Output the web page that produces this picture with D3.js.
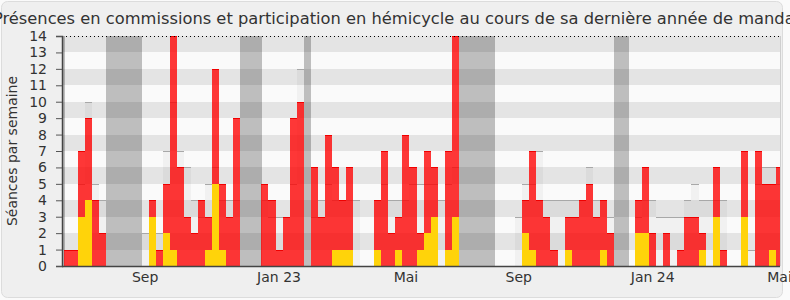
<!DOCTYPE html>
<html>
<head>
<meta charset="utf-8">
<script src="https://cdn.jsdelivr.net/npm/d3@7"></script>
<style>
  body { margin: 0; background: #fafafa; }
  svg text { font-family: "DejaVu Sans", sans-serif; fill: #333; }
  .tick text { font-size: 14px; }
</style>
</head>
<body>
<div id="chart"></div>
<script>
// seances per week (red = total, yellow = hemicycle part), median of all deputies in grey
const seances = [
  0, 1, 1, 7, 9, 4, 2, 0, 0, 0,
  0, 0, 0, 4, 1, 5, 14, 6, 3, 2,
  4, 3, 12, 5, 3, 9, 0, 0, 0, 5,
  4, 1, 3, 9, 10, 0, 6, 3, 8, 6,
  4, 6, 0, 0, 0, 4, 7, 2, 3, 8,
  6, 2, 7, 6, 0, 7, 14, 0, 0, 0,
  0, 0, 0, 0, 0, 0, 4, 7, 4, 3,
  1, 0, 3, 3, 4, 5, 3, 4, 2, 0,
  0, 0, 4, 6, 2, 0, 2, 0, 1, 3,
  3, 2, 0, 6, 1, 0, 0, 7, 0, 7,
  5, 5, 6
];
const hemicycle = [
  0, 0, 0, 3, 4, 0, 0, 0, 0, 0,
  0, 0, 0, 3, 0, 2, 1, 0, 0, 0,
  0, 1, 5, 1, 0, 0, 0, 0, 0, 0,
  0, 0, 0, 0, 0, 0, 0, 0, 0, 1,
  1, 1, 0, 0, 0, 1, 0, 0, 1, 0,
  0, 1, 2, 3, 0, 1, 3, 0, 0, 0,
  0, 0, 0, 0, 0, 0, 2, 1, 0, 0,
  0, 0, 1, 0, 0, 0, 0, 1, 0, 0,
  0, 0, 2, 2, 0, 0, 0, 0, 0, 0,
  0, 1, 0, 3, 0, 0, 0, 3, 0, 0,
  0, 1, 0
];
const mediane = [
  0, 0, 0, 5, 10, 5, 4, 0, 0, 0,
  0, 0, 2, 2, 2, 7, 10, 7, 6, 4,
  3, 5, 6, 4, 4, 4, 0, 0, 0, 4,
  3, 3, 3, 5, 12, 0, 3, 4, 5, 4,
  4, 4, 4, 0, 0, 4, 5, 4, 4, 4,
  5, 5, 5, 5, 4, 5, 6, 0, 0, 0,
  0, 0, 0, 0, 0, 3, 5, 5, 7, 4,
  4, 4, 4, 4, 4, 6, 4, 4, 3, 0,
  0, 0, 3, 4, 4, 3, 3, 3, 3, 4,
  5, 4, 4, 4, 4, 0, 0, 0, 1, 5,
  6, 6, 5
];
const vacances = [0, 7, 8, 9, 10, 11, 26, 27, 28, 35, 57, 58, 59, 60, 61, 79, 80];
const moisSemaines = [12, 31, 49, 65, 84, 102];
const moisLabels = ["Sep", "Jan 23", "Mai", "Sep", "Jan 24", "Mai"];

const width = 790, height = 300;
const plotLeft = 62, plotRight = 780, plotTop = 36, plotBottom = 266;
const weeks = d3.range(seances.length);

const svg = d3.select("#chart").append("svg")
    .attr("width", width)
    .attr("height", height);

// panel
svg.append("rect")
    .attr("x", 1.5).attr("y", 1.5)
    .attr("width", 781).attr("height", 296)
    .attr("rx", 6)
    .attr("fill", "#efefef")
    .attr("stroke", "#dcdcdc");

const x = d3.scaleBand()
    .domain(weeks)
    .range([56.95, 56.95 + 7.05 * weeks.length])
    .padding(0);

const y = d3.scaleLinear()
    .domain([0, 14])
    .range([plotBottom, plotTop]);

svg.append("clipPath").attr("id", "plot-clip")
  .append("rect")
    .attr("x", plotLeft).attr("y", plotTop - 1)
    .attr("width", plotRight - plotLeft).attr("height", plotBottom - plotTop + 1);

const plot = svg.append("g")
    .attr("clip-path", "url(#plot-clip)")
    .attr("shape-rendering", "crispEdges");

plot.append("rect")
    .attr("x", plotLeft).attr("y", plotTop)
    .attr("width", plotRight - plotLeft).attr("height", plotBottom - plotTop)
    .attr("fill", "#fafafa");

// holidays
plot.selectAll(".vac")
  .data(vacances)
  .enter().append("rect")
    .attr("x", d => x(d))
    .attr("width", x.bandwidth() + 0.6)
    .attr("y", plotTop)
    .attr("height", plotBottom - plotTop)
    .attr("fill", "#bebebe");

// alternating bands
plot.selectAll(".band")
  .data(d3.range(1, 14, 2))
  .enter().append("rect")
    .attr("x", plotLeft)
    .attr("width", plotRight - plotLeft)
    .attr("y", d => y(d + 1))
    .attr("height", d => y(d) - y(d + 1))
    .attr("fill", "#000")
    .attr("fill-opacity", 0.085);

const med = weeks.filter(i => mediane[i] > 0);

plot.selectAll(".med")
  .data(med)
  .enter().append("rect")
    .attr("x", d => x(d))
    .attr("width", x.bandwidth())
    .attr("y", d => y(mediane[d]))
    .attr("height", d => plotBottom - y(mediane[d]))
    .attr("fill", "#000")
    .attr("fill-opacity", 0.035);

plot.selectAll(".medline")
  .data(med)
  .enter().append("line")
    .attr("x1", d => x(d))
    .attr("x2", d => x(d) + x.bandwidth())
    .attr("y1", d => y(mediane[d]) + 0.5)
    .attr("y2", d => y(mediane[d]) + 0.5)
    .attr("stroke", "#a8a8a8");

const pres = weeks.filter(i => seances[i] > 0);

plot.selectAll(".red")
  .data(pres)
  .enter().append("rect")
    .attr("x", d => x(d))
    .attr("width", x.bandwidth())
    .attr("y", d => y(seances[d]))
    .attr("height", d => plotBottom - y(seances[d]))
    .attr("fill", "#ff0000")
    .attr("fill-opacity", 0.78);

plot.selectAll(".redline")
  .data(pres)
  .enter().append("line")
    .attr("x1", d => x(d))
    .attr("x2", d => x(d) + x.bandwidth())
    .attr("y1", d => y(seances[d]) + 0.5)
    .attr("y2", d => y(seances[d]) + 0.5)
    .attr("stroke", "#f00000");

plot.selectAll(".hemi")
  .data(weeks.filter(i => hemicycle[i] > 0))
  .enter().append("rect")
    .attr("x", d => x(d))
    .attr("width", x.bandwidth())
    .attr("y", d => y(hemicycle[d]))
    .attr("height", d => plotBottom - y(hemicycle[d]))
    .attr("fill", "#ffd30a");

// dotted top line
svg.append("line")
    .attr("x1", plotLeft).attr("x2", plotRight)
    .attr("y1", plotTop + 0.5).attr("y2", plotTop + 0.5)
    .attr("stroke", "#000")
    .attr("stroke-dasharray", "1,3");

svg.append("line")
    .attr("x1", plotRight + 0.5).attr("x2", plotRight + 0.5)
    .attr("y1", plotTop).attr("y2", plotBottom)
    .attr("stroke", "#cfcfcf");

// axes
const yAxis = svg.append("g")
    .attr("transform", `translate(${plotLeft},0)`)
    .call(d3.axisLeft(y).ticks(14).tickSize(6).tickPadding(9).tickFormat(d3.format("d")));
yAxis.select(".domain").attr("stroke", "#444").attr("stroke-width", 1.5);
yAxis.selectAll(".tick line").attr("stroke", "#555");

const xAxis = svg.append("g")
    .attr("transform", `translate(0,${plotBottom})`)
    .call(d3.axisBottom(x)
        .tickValues(moisSemaines)
        .tickSize(0)
        .tickPadding(6)
        .tickFormat((d, i) => moisLabels[i]));
xAxis.select(".domain").remove();
svg.append("line")
    .attr("x1", plotLeft).attr("x2", plotRight)
    .attr("y1", plotBottom + 0.5).attr("y2", plotBottom + 0.5)
    .attr("stroke", "#444").attr("stroke-width", 1.5);

svg.selectAll(".tick text").attr("fill", "#333");

// titles
svg.append("text")
    .attr("x", 397)
    .attr("y", 24)
    .attr("text-anchor", "middle")
    .style("font-size", "16.3px")
    .text("Présences en commissions et participation en hémicycle au cours de sa dernière année de mandat");

svg.append("text")
    .attr("transform", "translate(17,151) rotate(-90)")
    .attr("text-anchor", "middle")
    .style("font-size", "14px")
    .text("Séances par semaine");
</script>
</body>
</html>
